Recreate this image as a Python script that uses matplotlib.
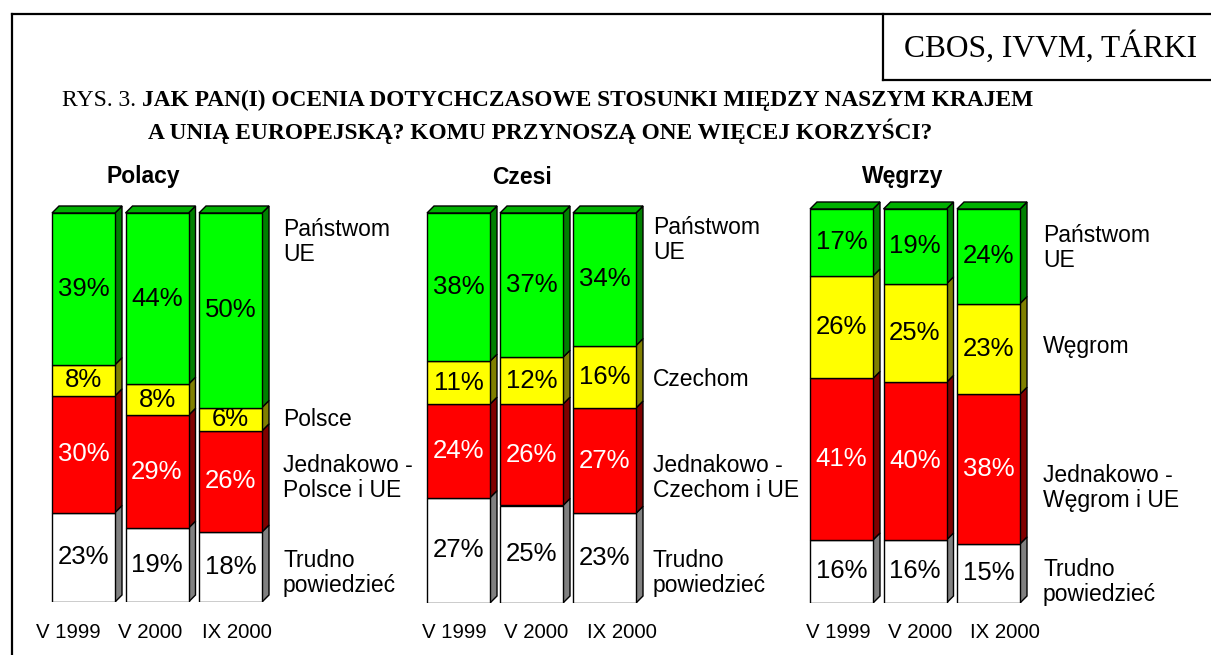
import matplotlib
matplotlib.use('Agg')
import matplotlib.pyplot as plt
from matplotlib.patches import Polygon
from matplotlib.lines import Line2D

W, H = 1211, 655

periods = ['V 1999', 'V 2000', 'IX 2000']
groups = ['Polacy', 'Czesi', 'Węgrzy']

# stacked from bottom: trudno, jednakowo, own country, EU states
pl_hard = [23, 19, 18]
pl_same = [30, 29, 26]
pl_own = [8, 8, 6]
pl_ue = [39, 44, 50]

cz_hard = [27, 25, 23]
cz_same = [24, 26, 27]
cz_own = [11, 12, 16]
cz_ue = [38, 37, 34]

hu_hard = [16, 16, 15]
hu_same = [41, 40, 38]
hu_own = [26, 25, 23]
hu_ue = [17, 19, 24]

pl_labels = ['Trudno\npowiedzieć', 'Jednakowo -\nPolsce i UE', 'Polsce', 'Państwom\nUE']
cz_labels = ['Trudno\npowiedzieć', 'Jednakowo -\nCzechom i UE', 'Czechom', 'Państwom\nUE']
hu_labels = ['Trudno\npowiedzieć', 'Jednakowo -\nWęgrom i UE', 'Węgrom', 'Państwom\nUE']

front = ['#FFFFFF', '#FF0000', '#FFFF00', '#00FF00']
side = ['#808080', '#800000', '#808000', '#008000']
top = ['#C0C0C0', '#C00000', '#C0C000', '#00B000']
txt_col = ['black', 'white', 'black', 'black']

plt.rcParams['font.family'] = ['Liberation Sans', 'DejaVu Sans']


def fx(px):
    return px / W


def fy(py):
    return 1 - py / H


fig = plt.figure(figsize=(W / 100, H / 100), dpi=100)

# layout of each group in pixels: first bar left, pitch, bar top(100%), bottom
layout = [
    dict(left=52, pitch=73.5, top=213, bottom=602, title_x=143,
         lab_x=283, lab_y=[573, 478, 420, 242], tick_x=[68, 150, 237]),
    dict(left=427, pitch=73, top=213, bottom=603, title_x=522,
         lab_x=653, lab_y=[573, 478, 380, 240], tick_x=[454, 536, 622]),
    dict(left=810, pitch=73.5, top=209, bottom=603, title_x=903,
         lab_x=1043, lab_y=[582, 488, 347, 248], tick_x=[838, 920, 1005]),
]

data = [
    [pl_hard, pl_same, pl_own, pl_ue],
    [cz_hard, cz_same, cz_own, cz_ue],
    [hu_hard, hu_same, hu_own, hu_ue],
]
labels = [pl_labels, cz_labels, hu_labels]

bar_w_px = 63
depth_px = 7

for g, name in enumerate(groups):
    L = layout[g]
    pitch = L['pitch']
    scale = (L['bottom'] - L['top']) / 100.0
    c0 = L['left'] + bar_w_px / 2
    x0, x1 = -0.6, 2.8
    y1 = 104
    ax = fig.add_axes([fx(c0 + x0 * pitch), fy(L['bottom']),
                       (x1 - x0) * pitch / W, y1 * scale / H])
    ax.set_xlim(x0, x1)
    ax.set_ylim(0, y1)
    ax.axis('off')

    w = bar_w_px / pitch
    dx = depth_px / pitch
    dy = depth_px / scale
    xs = list(range(len(periods)))
    base = [0] * len(periods)
    series = data[g]
    for k, vals in enumerate(series):
        ax.bar(xs, vals, bottom=base, width=w, color=front[k],
               edgecolor='black', linewidth=1, zorder=2)
        for i in xs:
            b = base[i]
            t = base[i] + vals[i]
            xr = i + w / 2
            ax.add_patch(Polygon([(xr, b), (xr + dx, b + dy), (xr + dx, t + dy), (xr, t)],
                                 closed=True, facecolor=side[k], edgecolor='black',
                                 linewidth=1, zorder=1))
            if k == len(series) - 1:
                xl = i - w / 2
                ax.add_patch(Polygon([(xl, t), (xl + dx, t + dy), (xr + dx, t + dy), (xr, t)],
                                     closed=True, facecolor=top[k], edgecolor='black',
                                     linewidth=1, zorder=1))
            ax.text(i, b + vals[i] / 2, f'{vals[i]}%', ha='center', va='center',
                    fontsize=18.5, color=txt_col[k], zorder=3)
        base = [base[i] + vals[i] for i in xs]

    fig.text(fx(L['title_x']), fy(177), name, ha='center', va='center',
             fontsize=16.5, fontweight='bold')
    for k, lab in enumerate(labels[g]):
        fig.text(fx(L['lab_x']), fy(L['lab_y'][k]), lab, ha='left', va='center',
                 fontsize=16.5, linespacing=1.12)
    for i, p in enumerate(periods):
        fig.text(fx(L['tick_x'][i]), fy(632), p, ha='center', va='center', fontsize=14.7)

# titles
serif = ['Liberation Serif', 'DejaVu Serif']
fig.text(fx(62), fy(100), 'RYS. 3.', ha='left', va='center', fontsize=17, family=serif)
fig.text(fx(142), fy(100), 'JAK PAN(I) OCENIA DOTYCHCZASOWE STOSUNKI MIĘDZY NASZYM KRAJEM',
         ha='left', va='center', fontsize=16.8, family=serif, fontweight='bold')
fig.text(fx(148), fy(131), 'A UNIĄ EUROPEJSKĄ? KOMU PRZYNOSZĄ ONE WIĘCEJ KORZYŚCI?',
         ha='left', va='center', fontsize=16.8, family=serif, fontweight='bold')
fig.text(fx(1051), fy(47), 'CBOS, IVVM, TÁRKI', ha='center', va='center',
         fontsize=22.7, family=serif)

# frame lines
lw = 1.6
fig.add_artist(Line2D([fx(12), fx(1211)], [fy(14), fy(14)], color='black', lw=lw))
fig.add_artist(Line2D([fx(12), fx(12)], [fy(14), fy(655)], color='black', lw=lw))
fig.add_artist(Line2D([fx(883), fx(883)], [fy(14), fy(80)], color='black', lw=lw))
fig.add_artist(Line2D([fx(883), fx(1211)], [fy(80), fy(80)], color='black', lw=lw))

fig.savefig('out.png', dpi=100, facecolor='white')
